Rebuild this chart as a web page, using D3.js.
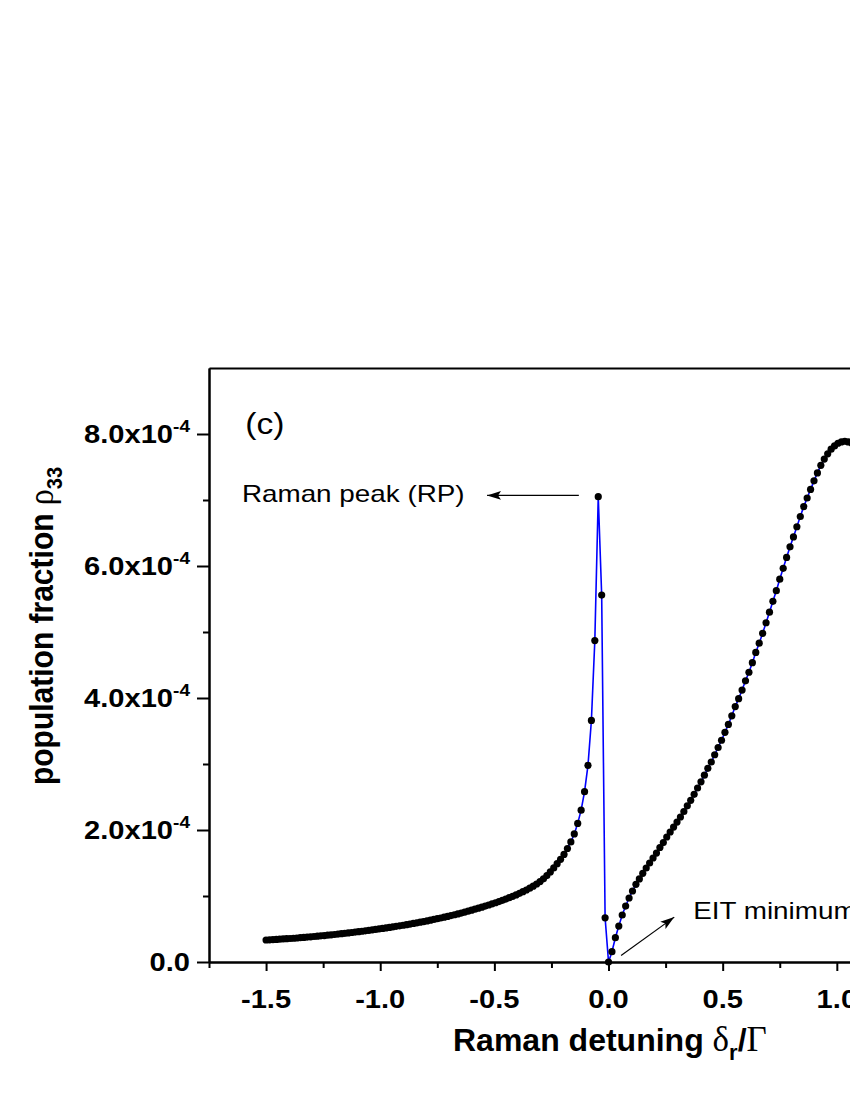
<!DOCTYPE html>
<html>
<head>
<meta charset="utf-8">
<script src="https://cdn.jsdelivr.net/npm/d3@7/dist/d3.min.js"></script>
<style>
  html, body { margin: 0; padding: 0; background: #fff; }
  svg { display: block; }
</style>
</head>
<body>
<svg id="chart" width="850" height="1100"></svg>
<script>
// Raman detuning δr/Γ
const detuning = [
  -1.5, -1.485, -1.47, -1.455, -1.44, -1.425, -1.41, -1.395, -1.38, -1.365,
  -1.35, -1.335, -1.32, -1.305, -1.29, -1.275, -1.26, -1.245, -1.23, -1.215,
  -1.2, -1.185, -1.17, -1.155, -1.14, -1.125, -1.11, -1.095, -1.08, -1.065,
  -1.05, -1.035, -1.02, -1.005, -0.99, -0.975, -0.96, -0.945, -0.93, -0.915,
  -0.9, -0.885, -0.87, -0.855, -0.84, -0.825, -0.81, -0.795, -0.78, -0.765,
  -0.75, -0.735, -0.72, -0.705, -0.69, -0.675, -0.66, -0.645, -0.63, -0.615,
  -0.6, -0.585, -0.57, -0.555, -0.54, -0.525, -0.51, -0.495, -0.48, -0.465,
  -0.45, -0.435, -0.42, -0.405, -0.39, -0.375, -0.36, -0.345, -0.33, -0.315,
  -0.3, -0.285, -0.27, -0.255, -0.24, -0.225, -0.21, -0.195, -0.18, -0.165,
  -0.15, -0.135, -0.12, -0.105, -0.09, -0.075, -0.06, -0.045, -0.03, -0.015,
  0,
  0.015, 0.03, 0.045, 0.06, 0.075, 0.09, 0.105, 0.12, 0.135, 0.15,
  0.165, 0.18, 0.195, 0.21, 0.225, 0.24, 0.255, 0.27, 0.285, 0.3,
  0.315, 0.33, 0.345, 0.36, 0.375, 0.39, 0.405, 0.42, 0.435, 0.45,
  0.465, 0.48, 0.495, 0.51, 0.525, 0.54, 0.555, 0.57, 0.585, 0.6,
  0.615, 0.63, 0.645, 0.66, 0.675, 0.69, 0.705, 0.72, 0.735, 0.75,
  0.765, 0.78, 0.795, 0.81, 0.825, 0.84, 0.855, 0.87, 0.885, 0.9,
  0.915, 0.93, 0.945, 0.96, 0.975, 0.99, 1.005, 1.02, 1.035, 1.05,
  1.065, 1.08, 1.095
];
// population fraction ρ33, in units of 1e-4
const rho33 = [
  0.333, 0.336, 0.339, 0.342, 0.346, 0.349, 0.353, 0.356, 0.360, 0.364,
  0.368, 0.372, 0.377, 0.381, 0.386, 0.391, 0.396, 0.401, 0.406, 0.412,
  0.417, 0.423, 0.429, 0.435, 0.441, 0.447, 0.453, 0.460, 0.466, 0.473,
  0.480, 0.487, 0.494, 0.501, 0.508, 0.516, 0.524, 0.532, 0.540, 0.548,
  0.557, 0.566, 0.575, 0.584, 0.593, 0.603, 0.613, 0.623, 0.634, 0.645,
  0.656, 0.667, 0.679, 0.691, 0.703, 0.716, 0.729, 0.742, 0.756, 0.770,
  0.785, 0.800, 0.815, 0.831, 0.847, 0.864, 0.881, 0.898, 0.916, 0.935,
  0.954, 0.974, 0.995, 1.017, 1.040, 1.065, 1.091, 1.119, 1.149, 1.182,
  1.219, 1.26, 1.31, 1.365, 1.425, 1.49, 1.555, 1.63, 1.72, 1.82,
  1.94, 2.10, 2.30, 2.58, 2.98, 3.66, 4.87, 7.05, 5.56, 0.67,
  0.00,
  0.156, 0.368, 0.545, 0.712, 0.848, 0.970, 1.076, 1.177, 1.258, 1.344,
  1.424, 1.500, 1.576, 1.650, 1.735, 1.810, 1.894, 1.970, 2.045, 2.120,
  2.197, 2.280, 2.367, 2.450, 2.540, 2.636, 2.730, 2.830, 2.935, 3.030,
  3.140, 3.250, 3.360, 3.480, 3.600, 3.730, 3.870, 3.990, 4.120, 4.260,
  4.390, 4.535, 4.690, 4.830, 4.980, 5.140, 5.300, 5.465, 5.626, 5.800,
  5.965, 6.130, 6.290, 6.440, 6.595, 6.750, 6.900, 7.030, 7.160, 7.290,
  7.410, 7.525, 7.620, 7.700, 7.770, 7.820, 7.860, 7.880, 7.890, 7.880,
  7.860, 7.820, 7.770
];
const xMajorTicks = [-1.5, -1.0, -0.5, 0.0, 0.5, 1.0, 1.5];
const xMinorTicks = [-1.75, -1.25, -0.75, -0.25, 0.25, 0.75, 1.25];
const xTickLabels = ["-1.5", "-1.0", "-0.5", "0.0", "0.5", "1.0", "1.5"];
const yMajorTicks = [0, 2, 4, 6, 8];
const yMinorTicks = [1, 3, 5, 7];
const yTickMantissa = ["0.0", "2.0x10", "4.0x10", "6.0x10", "8.0x10"];
const yTickExponent = ["", "-4", "-4", "-4", "-4"];

const SANS = "'Liberation Sans', Arial, Helvetica, sans-serif";
const SERIF = "'Liberation Serif', 'Times New Roman', serif";

const svg = d3.select("#chart");
svg.append("rect").attr("width", 850).attr("height", 1100).attr("fill", "#fff");

const x = d3.scaleLinear().domain([-1.75, 1.5]).range([209, 209 + 3.25 * 228.3]);
const y = d3.scaleLinear().domain([0, 9]).range([962, 368]);

// defs: arrowhead
svg.append("defs").append("marker")
  .attr("id", "arrow").attr("viewBox", "0 0 14 10")
  .attr("refX", 14).attr("refY", 5)
  .attr("markerWidth", 14).attr("markerHeight", 10)
  .attr("markerUnits", "userSpaceOnUse")
  .attr("orient", "auto")
  .append("path").attr("d", "M0,0.5 L14,5 L0,9.5 L3,5 Z").attr("fill", "#000");

// axes
function styleAxis(g) {
  g.select(".domain").attr("stroke", "#000").attr("stroke-width", 2);
  g.selectAll(".tick line").attr("stroke", "#000").attr("stroke-width", 2);
  g.selectAll(".tick text").remove();
}
svg.append("g").attr("transform", `translate(0,${y(0)})`)
  .call(d3.axisBottom(x).tickValues(xMajorTicks).tickSize(9).tickSizeOuter(0).tickFormat(""))
  .call(styleAxis);
svg.append("g").attr("transform", `translate(0,${y(0)})`)
  .call(d3.axisBottom(x).tickValues(xMinorTicks).tickSize(6).tickSizeOuter(0).tickFormat(""))
  .call(styleAxis);
svg.append("g").attr("transform", `translate(${x(-1.75)},0)`)
  .call(d3.axisLeft(y).tickValues(yMajorTicks).tickSize(12).tickSizeOuter(0).tickFormat(""))
  .call(styleAxis);
svg.append("g").attr("transform", `translate(${x(-1.75)},0)`)
  .call(d3.axisLeft(y).tickValues(yMinorTicks).tickSize(6).tickSizeOuter(0).tickFormat(""))
  .call(styleAxis);
// top and right frame lines
svg.append("g").attr("transform", `translate(0,${y(9)})`)
  .call(d3.axisTop(x).tickValues([]).tickSizeOuter(0))
  .call(styleAxis);
svg.append("g").attr("transform", `translate(${x(1.5)},0)`)
  .call(d3.axisRight(y).tickValues([]).tickSizeOuter(0))
  .call(styleAxis);

// stretched text helper
function stext(px, py, sx, anchor) {
  const g = svg.append("g").attr("transform", `translate(${px},${py}) scale(${sx},1)`);
  return g.append("text").attr("x", 0).attr("y", 0).attr("text-anchor", anchor || "start");
}

// x tick labels
xMajorTicks.forEach((v, i) => {
  stext(x(v), y(0) + 46, 1.12, "middle")
    .attr("font-family", SANS).attr("font-weight", "bold").attr("font-size", 26)
    .text(xTickLabels[i]);
});
// y tick labels
yMajorTicks.forEach((v, i) => {
  const t = stext(190, y(v) + 9.3, 1.12, "end")
    .attr("font-family", SANS).attr("font-weight", "bold").attr("font-size", 26);
  t.append("tspan").text(yTickMantissa[i]);
  if (yTickExponent[i]) {
    t.append("tspan").attr("dy", -11).attr("font-size", 17).text(yTickExponent[i]);
  }
});

// x axis title
const xt = svg.append("text").attr("x", 453).attr("y", 1051)
  .attr("font-family", SANS).attr("font-weight", "bold").attr("font-size", 32);
xt.append("tspan").text("Raman detuning ");
xt.append("tspan").attr("font-family", SERIF).attr("font-weight", "normal").attr("font-size", 35).text("δ");
xt.append("tspan").attr("dy", 9).attr("font-size", 22).text("r");
xt.append("tspan").attr("dy", -9).text("/");
xt.append("tspan").attr("font-family", SERIF).attr("font-weight", "normal").attr("font-size", 35).text("Γ");

// y axis title
const yt = svg.append("g").attr("transform", "translate(53,626) rotate(-90) scale(1,1.12)")
  .append("text").attr("text-anchor", "middle")
  .attr("font-family", SANS).attr("font-weight", "bold").attr("font-size", 30);
yt.append("tspan").text("population fraction ");
yt.append("tspan").attr("font-family", SERIF).attr("font-weight", "normal").attr("font-size", 32).text("ρ");
yt.append("tspan").attr("dy", 8).attr("font-size", 20).text("33");

// curve
const pts = detuning.map((d, i) => [d, rho33[i]]);
svg.append("path").datum(pts)
  .attr("fill", "none").attr("stroke", "#0000ff").attr("stroke-width", 1.6)
  .attr("d", d3.line().x(d => x(d[0])).y(d => y(d[1])));
svg.append("g").selectAll("circle").data(pts).join("circle")
  .attr("cx", d => x(d[0])).attr("cy", d => y(d[1])).attr("r", 3.6).attr("fill", "#000");

// annotations
stext(x(-1.591), y(8.0), 1.16, "start")
  .attr("font-family", SANS).attr("font-size", 29).text("(c)");
stext(x(-1.606), y(6.974), 1.16, "start")
  .attr("font-family", SANS).attr("font-size", 24).text("Raman peak (RP)");
svg.append("line")
  .attr("x1", x(-0.13)).attr("y1", y(7.07)).attr("x2", x(-0.532)).attr("y2", y(7.07))
  .attr("stroke", "#000").attr("stroke-width", 1.2).attr("marker-end", "url(#arrow)");
stext(x(0.371), y(0.65), 1.16, "start")
  .attr("font-family", SANS).attr("font-size", 24).text("EIT minimum");
svg.append("line")
  .attr("x1", x(0.055)).attr("y1", y(0.1)).attr("x2", x(0.288)).attr("y2", y(0.68))
  .attr("stroke", "#000").attr("stroke-width", 1.2).attr("marker-end", "url(#arrow)");
</script>
</body>
</html>
